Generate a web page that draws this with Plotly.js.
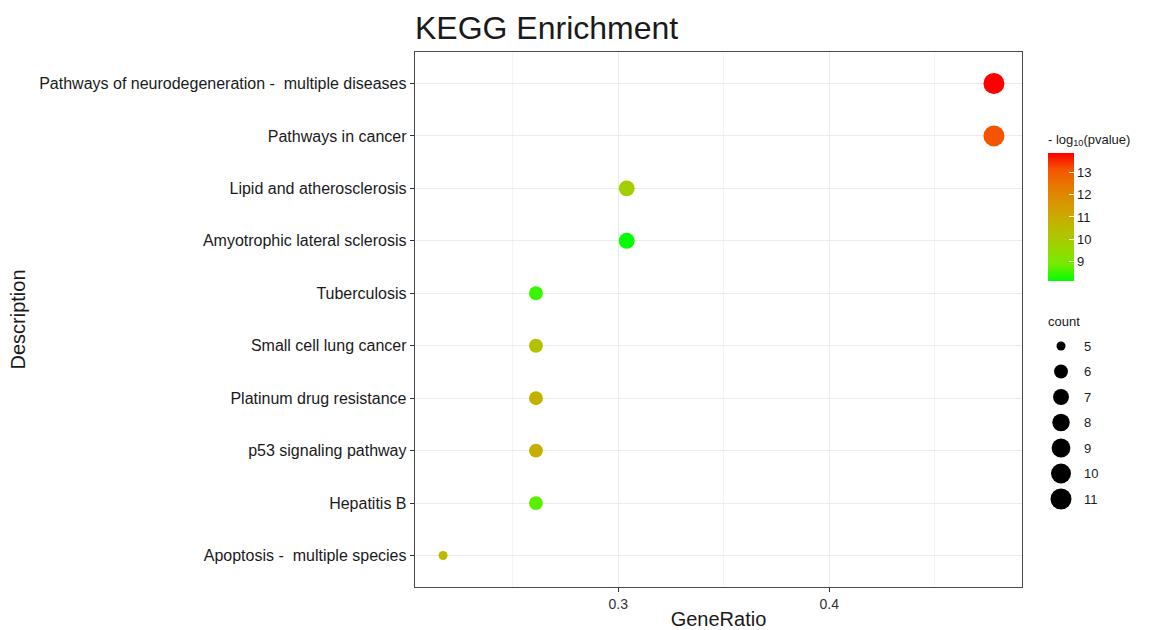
<!DOCTYPE html>
<html>
<head>
<meta charset="utf-8">
<script src="https://cdn.plot.ly/plotly-3.0.1.min.js"></script>
<style>html,body{margin:0;padding:0;background:#fff;}#chart{width:1152px;height:630px;}</style>
</head>
<body>
<div id="chart"></div>
<script>
// ---- data (top to bottom) ----
const descriptions = [
  "Pathways of neurodegeneration -\u00a0 multiple diseases",
  "Pathways in cancer",
  "Lipid and atherosclerosis",
  "Amyotrophic lateral sclerosis",
  "Tuberculosis",
  "Small cell lung cancer",
  "Platinum drug resistance",
  "p53 signaling pathway",
  "Hepatitis B",
  "Apoptosis -\u00a0 multiple species"
];
const geneRatio = [0.478, 0.478, 0.304, 0.304, 0.261, 0.261, 0.261, 0.261, 0.261, 0.217];
const geneCount = [11, 11, 7, 7, 6, 6, 6, 6, 6, 5];
const negLog10P = [13.88, 13.15, 9.85, 8.13, 8.50, 10.25, 10.80, 10.85, 8.70, 10.55];
const sizeLegendCounts = [5, 6, 7, 8, 9, 10, 11];
const colorTicks = [9, 10, 11, 12, 13];

// ---- style helpers ----
const minC = 5, maxC = 11;
function dotSize(c) { return 9 + 12 * Math.sqrt((c - minC) / (maxC - minC)); }
const greenRedLab = [
  [0, "#00FF00"], [0.125, "#70EB00"], [0.25, "#98D700"], [0.375, "#B3C100"],
  [0.5, "#C9AB00"], [0.625, "#DA9200"], [0.75, "#E87600"], [0.875, "#F45300"], [1, "#FF0000"]
];
const FONT = "Liberation Sans, Arial, Helvetica, sans-serif";

const W = 1152, H = 630, L = 415, R = 10, T = 52, B = 43;
const pw = W - L - R, ph = H - T - B;
const px = v => (v - L) / pw;      // pixel x -> paper
const py = v => (H - B - v) / ph;  // pixel y -> paper

const main = {
  type: "scatter", mode: "markers",
  x: geneRatio, y: descriptions,
  xaxis: "x", yaxis: "y",
  marker: {
    size: geneCount.map(dotSize), sizemode: "diameter",
    color: negLog10P, colorscale: greenRedLab, showscale: true,
    line: { width: 0 }, opacity: 1,
    colorbar: {
      title: { text: "- log<sub>10</sub>(pvalue)", side: "top", font: { size: 13, color: "#1a1a1a", family: FONT } },
      x: px(1048), xanchor: "left", xpad: 0,
      y: py(131), yanchor: "top", ypad: 0,
      len: 150, lenmode: "pixels",
      thickness: 26, thicknessmode: "pixels",
      outlinewidth: 0,
      tickvals: colorTicks, ticks: "inside", ticklen: 5, tickcolor: "#ffffff", tickwidth: 1,
      ticklabelstandoff: 4,
      tickfont: { size: 13, color: "#1a1a1a", family: FONT }
    }
  },
  showlegend: false, hoverinfo: "x+y"
};

const sizeKey = {
  type: "scatter", mode: "markers",
  x: sizeLegendCounts.map(() => 0), y: sizeLegendCounts,
  xaxis: "x2", yaxis: "y2",
  marker: { size: sizeLegendCounts.map(dotSize), sizemode: "diameter", color: "#000000", opacity: 1, line: { width: 0 } },
  showlegend: false, hoverinfo: "y"
};

const layout = {
  width: W, height: H,
  margin: { l: L, r: R, t: T, b: B, pad: 0 },
  paper_bgcolor: "#ffffff", plot_bgcolor: "#ffffff",
  font: { family: FONT, color: "#1a1a1a" },
  title: {
    text: "KEGG Enrichment", font: { size: 32, color: "#1a1a1a", family: FONT },
    xref: "paper", x: 0, xanchor: "left", yref: "container", y: 1 - 28 / H, yanchor: "middle"
  },
  xaxis: {
    domain: [0, 607 / pw],
    range: [0.2037, 0.4913],
    dtick: 0.1, tick0: 0, tickformat: ".1f",
    showgrid: true, gridcolor: "#EBEBEB", gridwidth: 1,
    minor: { dtick: 0.05, tick0: 0, showgrid: true, gridcolor: "#F4F4F4", gridwidth: 1 },
    zeroline: false,
    showline: true, mirror: true, linecolor: "#4a4a4a", linewidth: 1.3,
    ticks: "outside", ticklen: 4, tickcolor: "#333333", tickwidth: 1,
    tickfont: { size: 14, color: "#333333", family: FONT },
    title: { text: "GeneRatio", font: { size: 20, color: "#1a1a1a", family: FONT }, standoff: 4 },
    automargin: false, fixedrange: true
  },
  yaxis: {
    domain: [0, 1],
    type: "category", range: [9.6, -0.6],
    showgrid: true, gridcolor: "#EBEBEB", gridwidth: 1,
    zeroline: false,
    showline: true, mirror: true, linecolor: "#4a4a4a", linewidth: 1.3,
    ticks: "outside", ticklen: 4, tickcolor: "#333333", tickwidth: 1,
    tickfont: { size: 16, color: "#1a1a1a", family: FONT },
    title: { text: "Description", font: { size: 20, color: "#1a1a1a", family: FONT }, standoff: 8 },
    automargin: false, fixedrange: true
  },
  xaxis2: {
    domain: [px(1050), px(1072)], anchor: "y2", range: [-1, 1],
    visible: false, fixedrange: true
  },
  yaxis2: {
    domain: [py(511.75), py(333.25)], anchor: "x2", side: "right",
    range: [11.5, 4.5], tickvals: sizeLegendCounts,
    showgrid: false, zeroline: false, showline: false, ticks: "",
    ticklabelstandoff: 11,
    tickfont: { size: 13, color: "#1a1a1a", family: FONT },
    fixedrange: true
  },
  annotations: [
    { text: "count", xref: "paper", yref: "paper", x: px(1046), y: py(321), xanchor: "left", yanchor: "middle",
      showarrow: false, font: { size: 13, color: "#1a1a1a", family: FONT } }
  ]
};

Plotly.newPlot("chart", [main, sizeKey], layout, { displayModeBar: false, staticPlot: true });
</script>
</body>
</html>
